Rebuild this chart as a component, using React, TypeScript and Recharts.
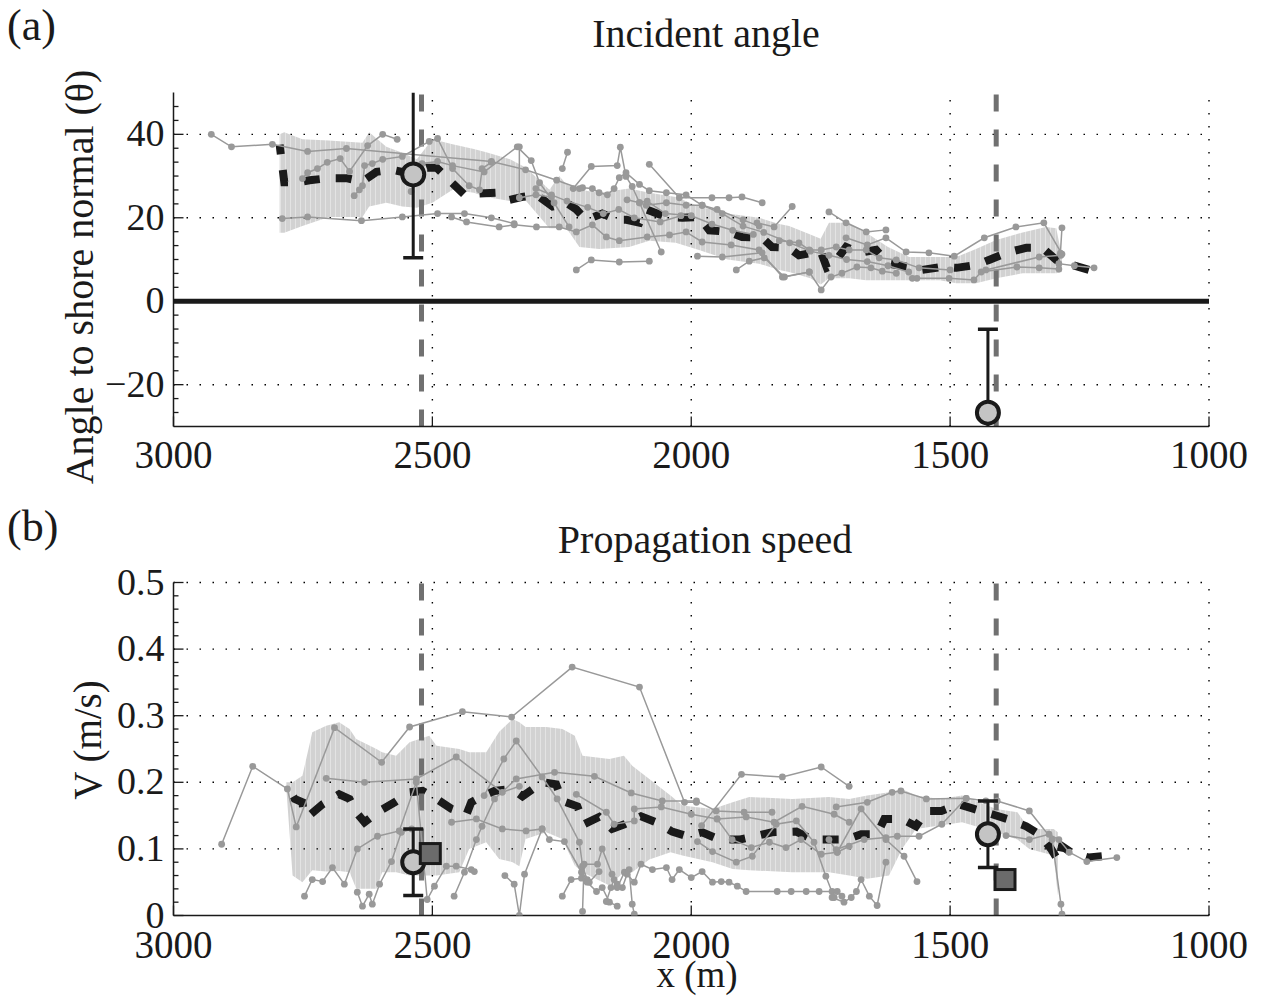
import React from 'react';
import { ComposedChart, XAxis, YAxis, Area, Line, Scatter, ReferenceLine } from 'recharts';

const FONT = '"Liberation Serif", "Times New Roman", Times, serif';
const INK = '#1a1a1a';
const GRAY = '#999999';

// ---------- axes ----------
const xTicks = [1000, 1500, 2000, 2500, 3000];
const xGrid = [2500, 2000, 1500, 1000];
const yMajorA = [-20, 0, 20, 40];
const yMinorA = [-26.667, -23.333, -16.667, -13.333, -10, -6.667, -3.333, 3.333, 6.667, 10, 13.333, 16.667, 23.333, 26.667, 30, 33.333, 36.667, 43.333, 46.667];
const yGridA = [40, 20, -20];
const yMajorB = [0, 0.1, 0.2, 0.3, 0.4, 0.5];
const yMinorB = [0.02, 0.04, 0.06, 0.08, 0.12, 0.14, 0.16, 0.18, 0.22, 0.24, 0.26, 0.28, 0.32, 0.34, 0.36, 0.38, 0.42, 0.44, 0.46, 0.48];
const yGridB = [0.1, 0.2, 0.3, 0.4, 0.5];
const dashedX = [2521, 1411];

// ---------- panel (a): incident angle ----------
const bandA: [number, number, number][] = [
  [2795, 16.4, 40], [2786, 16.4, 40.5], [2751, 18, 38.8], [2700, 20.2, 38.5], [2635, 20.2, 38],
  [2622, 22.7, 40.5], [2589, 23.6, 37], [2558, 22.7, 35.6], [2530, 22.4, 34], [2500, 23.6, 38.8],
  [2461, 26.7, 37.6], [2420, 26, 36.5], [2396, 25, 35.7], [2350, 24, 34], [2319, 24, 32],
  [2274, 17.5, 26.7], [2255, 17.5, 30], [2241, 17.5, 28], [2216, 13, 26.7], [2178, 12.5, 26],
  [2120, 13, 27], [2081, 14.5, 26], [2030, 14, 25], [1985, 12.3, 22.7], [1930, 10, 21],
  [1869, 9, 20], [1830, 7.5, 18.5], [1811, 7, 18], [1770, 5.5, 16], [1750, 4, 15],
  [1734, 5.5, 18.8], [1695, 5.5, 18.8], [1662, 5, 16.4], [1620, 5, 13], [1579, 5, 10.6],
  [1520, 5, 10.6], [1488, 4.3, 10.6], [1450, 4.3, 12.5], [1411, 5.5, 14.7], [1360, 6.7, 16.5],
  [1315, 6.7, 17.8], [1295, 6.7, 17.5], [1284, 7, 10.6],
];
const meanA: [number, number][] = [
  [2795, 37.5], [2786, 28.5], [2760, 28.5], [2737, 29], [2700, 29.5], [2666, 29.5], [2635, 28.7],
  [2608, 31], [2577, 31.5], [2540, 30.5], [2510, 32], [2492, 32], [2467, 29], [2438, 25.5],
  [2410, 25.8], [2376, 26], [2351, 24.3], [2326, 25], [2299, 25.5], [2268, 22.7], [2241, 23.6],
  [2222, 22], [2203, 19.5], [2172, 21], [2145, 19.5], [2125, 19.5], [2100, 18.8], [2087, 22],
  [2048, 20.2], [2017, 20], [1985, 20.2], [1965, 17], [1927, 16.6], [1902, 15.4], [1863, 15.2],
  [1844, 13], [1811, 12.8], [1792, 11], [1766, 11.6], [1750, 12], [1738, 8], [1728, 8.5],
  [1701, 13], [1676, 11.6], [1643, 12.3], [1618, 9], [1579, 8.2], [1554, 7.5], [1517, 8.2],
  [1488, 8], [1450, 8.7], [1425, 9.9], [1386, 11.8], [1353, 12.8], [1322, 12.8], [1295, 9.9],
  [1264, 8.7], [1232, 7.5],
];
const tracesA: [number, number][][] = [
  [[2927, 40], [2888, 37], [2809, 37.6], [2741, 35.9], [2666, 36.6], [2386, 33.5], [2320, 31.5], [2260, 29], [2216, 27]],
  [[2790, 19.8], [2741, 20.2], [2637, 19.3], [2558, 20.2], [2490, 21], [2438, 21], [2386, 20], [2342, 18.6]],
  [[2463, 20.2], [2434, 19], [2371, 17.8], [2342, 18.3], [2299, 17.8], [2255, 17.8], [2222, 16.6], [2191, 18.3], [2164, 15.4], [2139, 14.5], [2085, 15.4], [2042, 15.9], [2010, 16.6], [1979, 14.2], [1923, 13.5], [1869, 12.3], [1824, 5.8], [1772, 7], [1749, 2.7], [1730, 5.8], [1709, 6.7], [1680, 8.2], [1653, 8], [1631, 7.2], [1604, 6.7]],
  [[2751, 29.4], [2741, 30.8], [2722, 31.8], [2703, 33.3], [2678, 34.2], [2660, 31.1], [2625, 37.3], [2596, 40], [2568, 38.8]],
  [[2651, 25.3], [2641, 26.7], [2635, 27.7], [2631, 32.5], [2616, 33], [2596, 34], [2558, 34.7], [2506, 38.3], [2490, 39], [2461, 31.8], [2429, 27.7], [2409, 26.7], [2404, 31.8], [2386, 33.3]],
  [[2541, 26.3], [2520, 33], [2490, 33.5], [2461, 32.5], [2400, 31], [2336, 37], [2309, 33.7], [2293, 28.4], [2265, 23.6], [2236, 17.8]],
  [[2332, 37], [2332, 24.8], [2300, 25.5], [2270, 25]],
  [[2249, 31.8], [2239, 35.7]],
  [[2222, 7.5], [2193, 9.9], [2139, 9.4], [2081, 9.6]],
  [[2228, 27], [2193, 32.3], [2143, 32.5], [2137, 36.9], [2126, 29.9], [2114, 27.5], [2100, 23.6], [2058, 11.8]],
  [[2210, 27.2], [2191, 27], [2178, 26], [2162, 25.5], [2149, 27], [2139, 29.6], [2126, 30.8], [2100, 28], [2081, 26.5], [2048, 26], [2010, 25.5], [1979, 23], [1950, 22], [1900, 19.5], [1869, 18]],
  [[2081, 32.8], [2023, 24.8], [1960, 24.8], [1927, 24.8], [1902, 25], [1863, 23.6]],
  [[1988, 10.8], [1940, 10.6], [1863, 11.6]],
  [[1913, 7.5], [1888, 9.6], [1859, 10.4], [1820, 5.8], [1772, 7]],
  [[1873, 18.8], [1840, 17.8], [1805, 22.7]],
  [[1734, 21.4], [1701, 18.8], [1662, 16.6], [1624, 17.1]],
  [[1701, 15.2], [1660, 13.5], [1624, 15.2], [1585, 11.8], [1541, 11.6], [1492, 10.8], [1434, 15.2], [1373, 17.8], [1319, 18.8], [1284, 11.3]],
  [[1284, 17.6], [1287, 11.5], [1290, 9], [1260, 8.5], [1222, 8]],
  [[1573, 5.5], [1564, 5.5], [1502, 5.5], [1454, 5.1], [1440, 7], [1371, 8.2], [1328, 8], [1290, 7.7]],
  [[1431, 7.5], [1328, 10.6], [1286, 11]],
  [[2087, 23], [2048, 23.6], [2010, 23], [1979, 23], [1940, 21], [1900, 18], [1860, 16.5], [1810, 14], [1770, 12], [1734, 11], [1700, 10], [1660, 9.5], [1620, 8.5], [1580, 7]],
  [[2124, 24.3], [2100, 23.6], [2085, 24], [2050, 21], [2000, 20.5], [1960, 18.5], [1920, 17], [1880, 16]],
  [[2300, 27], [2270, 25.5], [2240, 24], [2200, 22.5], [2170, 21], [2140, 22], [2110, 20], [2060, 19], [2020, 20.5]],
  [[1830, 14.5], [1792, 14], [1772, 12.3], [1749, 12.3], [1720, 13], [1695, 12.3], [1662, 12.3], [1637, 10.4], [1604, 9.9], [1560, 8], [1500, 7.5]],
];
const obsA = [
  { x: 2537, y: 30.4, err: [20, 20] },
  { x: 1427, y: -26.7, err: [20, 20] },
];

// ---------- panel (b): propagation speed ----------
const bandB: [number, number, number][] = [
  [2782, 0.19, 0.2], [2770, 0.06, 0.2], [2751, 0.05, 0.21], [2732, 0.068, 0.275], [2705, 0.066, 0.285],
  [2680, 0.067, 0.29], [2660, 0.065, 0.28], [2647, 0.04, 0.265], [2608, 0.04, 0.25], [2597, 0.065, 0.245],
  [2570, 0.065, 0.24], [2544, 0.06, 0.26], [2506, 0.06, 0.27], [2492, 0.06, 0.255], [2448, 0.065, 0.25],
  [2429, 0.1, 0.245], [2396, 0.11, 0.245], [2371, 0.085, 0.276], [2345, 0.08, 0.295], [2332, 0.074, 0.29],
  [2320, 0.115, 0.283], [2280, 0.125, 0.283], [2249, 0.115, 0.28], [2225, 0.075, 0.27], [2210, 0.065, 0.24],
  [2158, 0.045, 0.235], [2130, 0.065, 0.24], [2114, 0.065, 0.225], [2081, 0.084, 0.205], [2040, 0.095, 0.18],
  [2017, 0.09, 0.165], [1959, 0.08, 0.16], [1920, 0.07, 0.17], [1888, 0.068, 0.178], [1805, 0.065, 0.175],
  [1734, 0.065, 0.178], [1695, 0.06, 0.175], [1660, 0.055, 0.18], [1618, 0.06, 0.185], [1593, 0.1, 0.19],
  [1566, 0.13, 0.18], [1520, 0.135, 0.175], [1477, 0.14, 0.18], [1411, 0.125, 0.16], [1370, 0.114, 0.155],
  [1347, 0.1, 0.13], [1300, 0.09, 0.13], [1292, 0.03, 0.125],
];
const meanB: [number, number][] = [
  [2780, 0.194], [2766, 0.175], [2751, 0.17], [2748, 0.15], [2735, 0.152], [2712, 0.167], [2680, 0.182],
  [2660, 0.175], [2647, 0.155], [2631, 0.14], [2602, 0.157], [2573, 0.17], [2544, 0.185], [2519, 0.187],
  [2492, 0.175], [2463, 0.16], [2434, 0.152], [2425, 0.17], [2404, 0.179], [2380, 0.187], [2346, 0.19],
  [2326, 0.179], [2288, 0.2], [2261, 0.197], [2249, 0.172], [2220, 0.164], [2207, 0.137], [2178, 0.148],
  [2153, 0.13], [2129, 0.137], [2097, 0.149], [2068, 0.14], [2037, 0.126], [2008, 0.119], [1979, 0.125],
  [1946, 0.114], [1907, 0.114], [1878, 0.119], [1844, 0.125], [1797, 0.126], [1766, 0.114], [1734, 0.114],
  [1701, 0.114], [1672, 0.122], [1641, 0.122], [1627, 0.145], [1593, 0.145], [1566, 0.134], [1546, 0.157],
  [1517, 0.157], [1483, 0.167], [1454, 0.16], [1419, 0.152], [1390, 0.145], [1353, 0.134], [1328, 0.122],
  [1305, 0.1], [1290, 0.081], [1284, 0.104], [1267, 0.095], [1232, 0.087], [1207, 0.089],
];
const tracesB: [number, number][][] = [
  [[2907, 0.107], [2847, 0.224], [2780, 0.19], [2763, 0.133], [2689, 0.282], [2598, 0.23], [2544, 0.283], [2442, 0.306], [2347, 0.298], [2230, 0.373], [2100, 0.343], [2013, 0.17], [1990, 0.17]],
  [[2705, 0.206], [2631, 0.2], [2531, 0.205], [2454, 0.238], [2365, 0.185], [2332, 0.194]],
  [[2747, 0.029], [2732, 0.054], [2712, 0.051], [2693, 0.072], [2670, 0.047], [2645, 0.1], [2606, 0.119], [2564, 0.127], [2531, 0.2], [2510, 0.024], [2496, 0.044], [2473, 0.074], [2454, 0.074], [2425, 0.069], [2419, 0.066]],
  [[2645, 0.035], [2635, 0.014], [2622, 0.032], [2616, 0.017], [2602, 0.047], [2579, 0.081], [2560, 0.125], [2540, 0.13]],
  [[2463, 0.14], [2415, 0.145], [2365, 0.13], [2319, 0.127], [2288, 0.13], [2274, 0.114], [2245, 0.111], [2212, 0.065], [2197, 0.05], [2178, 0.066]],
  [[2458, 0.029], [2438, 0.065], [2415, 0.114], [2404, 0.134], [2380, 0.175], [2338, 0.205], [2264, 0.215], [2187, 0.209], [2116, 0.184], [2056, 0.172], [1990, 0.172], [1952, 0.157], [1898, 0.155], [1844, 0.155]],
  [[2400, 0.18], [2362, 0.235], [2338, 0.262], [2288, 0.208], [2259, 0.175], [2216, 0.11], [2210, 0.074], [2201, 0.054]],
  [[2360, 0.06], [2342, 0.047], [2332, 0.0], [2322, 0.062], [2288, 0.13]],
  [[2222, 0.182], [2164, 0.155], [2149, 0.137], [2110, 0.142], [2110, 0.16], [2058, 0.163], [2000, 0.152], [1950, 0.145], [1894, 0.148], [1840, 0.14], [1786, 0.164], [1724, 0.152], [1695, 0.14]],
  [[2249, 0.029], [2232, 0.054], [2212, 0.056], [2201, 0.05], [2183, 0.036], [2172, 0.042], [2158, 0.02], [2143, 0.014]],
  [[2210, 0.006], [2207, 0.077], [2181, 0.077], [2172, 0.1], [2153, 0.062], [2143, 0.042], [2129, 0.065], [2120, 0.069], [2114, 0.017], [2110, 0.002]],
  [[2164, 0.021], [2155, 0.042], [2149, 0.054], [2143, 0.047], [2133, 0.042], [2124, 0.062], [2110, 0.05], [2097, 0.077], [2075, 0.069], [2048, 0.072], [2037, 0.054], [2023, 0.069], [2000, 0.057], [1979, 0.066], [1959, 0.05], [1942, 0.051], [1927, 0.05], [1911, 0.044], [1894, 0.036], [1834, 0.036], [1807, 0.036], [1778, 0.036], [1753, 0.036], [1728, 0.036], [1718, 0.036], [1709, 0.029]],
  [[1980, 0.135], [1903, 0.212], [1824, 0.208], [1749, 0.223], [1695, 0.194]],
  [[1950, 0.145], [1921, 0.114], [1884, 0.102], [1849, 0.11], [1817, 0.102], [1788, 0.114], [1749, 0.092], [1718, 0.095], [1695, 0.104]],
  [[1988, 0.111], [1959, 0.096], [1913, 0.08], [1882, 0.089], [1836, 0.137], [1797, 0.142], [1763, 0.11], [1740, 0.059], [1724, 0.027]],
  [[1720, 0.163], [1660, 0.17], [1612, 0.185], [1595, 0.187], [1546, 0.175], [1469, 0.176], [1431, 0.172], [1409, 0.172], [1347, 0.157], [1303, 0.114], [1286, 0.017], [1284, 0.002]],
  [[1734, 0.114], [1718, 0.095], [1672, 0.16], [1624, 0.114], [1589, 0.089], [1564, 0.051]],
  [[1720, 0.099], [1666, 0.114], [1624, 0.117], [1602, 0.119], [1560, 0.119], [1516, 0.137], [1469, 0.176]],
  [[1728, 0.027], [1705, 0.02], [1691, 0.027], [1681, 0.036], [1672, 0.054], [1656, 0.029], [1641, 0.015], [1624, 0.08]],
  [[1392, 0.12], [1347, 0.114], [1309, 0.122], [1290, 0.114], [1270, 0.095], [1236, 0.081], [1178, 0.087]],
];
const obsB = [
  { x: 2537, y: 0.08, err: [0.05, 0.05] },
  { x: 1427, y: 0.122, err: [0.05, 0.05] },
];
const modelB = [
  { x: 2504, y: 0.093 },
  { x: 1394, y: 0.054 },
];

// ---------- helpers ----------
function buildTable(band: [number, number, number][], mean: [number, number][]) {
  const m = new Map<number, any>();
  band.forEach(([x, lo, hi]) => m.set(x, { ...(m.get(x) || { x }), band: [lo, hi] }));
  mean.forEach(([x, v]) => m.set(x, { ...(m.get(x) || { x }), mean: v }));
  return Array.from(m.values()).sort((a, b) => a.x - b.x);
}
const toPts = (t: [number, number][]) => t.map(([x, y]) => ({ x, y }));

// error bar segments clamped to the visible axis range; caps only where the bar ends inside it
function errSegments(obs: { x: number; y: number; err: number[] }[], dom: [number, number]) {
  return obs.map((o) => {
    const lo = o.y - o.err[0];
    const hi = o.y + o.err[1];
    return [
      { x: o.x, y: Math.max(lo, dom[0]), cap: lo >= dom[0] },
      { x: o.x, y: Math.min(hi, dom[1]), cap: hi <= dom[1] },
    ];
  });
}

const fmtA = (v: number) => (v < 0 ? '\u2212' + Math.abs(v) : String(v));
const fmtB = (v: number) => (v === 0 ? '0' : v.toFixed(1));

const makeYTick = (majors: number[], fmt: (v: number) => string) => (props: any) => {
  const { x, y, payload } = props;
  const v = payload.value;
  const isMajor = majors.some((m) => Math.abs(m - v) < 1e-6);
  return (
    <g>
      <line x1={x} x2={x + (isMajor ? 10 : 5)} y1={y} y2={y} stroke={INK} strokeWidth={1.3} />
      {isMajor && (
        <text x={x - 9} y={y} dy={12} textAnchor="end" fontFamily={FONT} fontSize={38} fill={INK}>
          {fmt(v)}
        </text>
      )}
    </g>
  );
};
const XTick = (props: any) => {
  const { x, y, payload } = props;
  return (
    <g>
      <line x1={x} x2={x} y1={y} y2={y - 10} stroke={INK} strokeWidth={1.3} />
      <text x={x} y={y + 42} textAnchor="middle" fontFamily={FONT} fontSize={39} fill={INK}>
        {payload.value}
      </text>
    </g>
  );
};

const GrayDot = (p: any) => <circle cx={p.cx} cy={p.cy} r={3.4} fill={GRAY} />;
const Cap = (p: any) => {
  const cap = p.payload ? p.payload.cap : p.cap;
  return cap ? <line x1={p.cx - 10} x2={p.cx + 10} y1={p.cy} y2={p.cy} stroke={INK} strokeWidth={3.5} /> : <g />;
};
const ObsCircle = (p: any) => <circle cx={p.cx} cy={p.cy} r={11} fill="#c4c4c4" stroke={INK} strokeWidth={4} />;
const ModelSquare = (p: any) => (
  <rect x={p.cx - 10} y={p.cy - 10} width={20} height={20} fill="#6b6b6b" stroke={INK} strokeWidth={3} />
);

const gridDash = '1.5 11.5';

function Panel(props: {
  id: string; top: number; height: number; marginTop: number; marginBottom: number;
  band: [number, number, number][]; mean: [number, number][]; traces: [number, number][][];
  yDomain: [number, number]; yMajor: number[]; yMinor: number[]; yGrid: number[];
  fmt: (v: number) => string; obs: any[]; model?: any[]; zeroLine?: boolean;
}) {
  const data = buildTable(props.band, props.mean);
  const yTicks = [...props.yMajor, ...props.yMinor].sort((a, b) => a - b);
  const segs = errSegments(props.obs, props.yDomain);
  const pid = 'stripes-' + props.id;
  return (
    <div style={{ position: 'absolute', left: 0, top: props.top, width: 1267, height: props.height }}>
      <ComposedChart
        width={1267}
        height={props.height}
        data={data}
        margin={{ top: props.marginTop, right: 58, bottom: props.marginBottom, left: 113.5 }}
      >
        <defs>
          <pattern id={pid} patternUnits="userSpaceOnUse" width={5} height={10}>
            <rect x={0} y={0} width={5} height={10} fill="#d2d2d2" />
            <rect x={0} y={0} width={1} height={10} fill="#e3e3e3" />
          </pattern>
        </defs>
        <XAxis
          type="number"
          dataKey="x"
          domain={[1000, 3000]}
          reversed
          ticks={xTicks}
          interval={0}
          tickSize={0}
          tickMargin={0}
          tick={XTick}
          height={40}
          axisLine={{ stroke: INK, strokeWidth: 1.5 }}
          tickLine={false}
          allowDataOverflow
        />
        <YAxis
          type="number"
          dataKey="y"
          domain={props.yDomain}
          ticks={yTicks}
          interval={0}
          tickSize={0}
          tickMargin={0}
          tick={makeYTick(props.yMajor, props.fmt)}
          width={60}
          axisLine={{ stroke: INK, strokeWidth: 1.5 }}
          tickLine={false}
          allowDataOverflow
        />
        {props.yGrid.map((v) => (
          <ReferenceLine key={'gy' + v} y={v} stroke="#000" strokeWidth={1.4} strokeDasharray={gridDash} />
        ))}
        {xGrid.map((v) => (
          <ReferenceLine key={'gx' + v} x={v} stroke="#000" strokeWidth={1.4} strokeDasharray={gridDash} />
        ))}
        <Area
          dataKey="band"
          type="linear"
          fill={`url(#${pid}) #d4d4d4`}
          fillOpacity={1}
          stroke="none"
          connectNulls
          isAnimationActive={false}
          activeDot={false}
        />
        {props.traces.map((t, i) => (
          <Scatter
            key={'tr' + i}
            data={toPts(t)}
            line={{ stroke: GRAY, strokeWidth: 1.5 }}
            shape={GrayDot}
            fill={GRAY}
            isAnimationActive={false}
          />
        ))}
        <Line
          dataKey="mean"
          type="linear"
          stroke={INK}
          strokeWidth={8}
          strokeDasharray="16 16"
          dot={false}
          activeDot={false}
          connectNulls
          isAnimationActive={false}
        />
        {props.zeroLine && <ReferenceLine y={0} stroke={INK} strokeWidth={5} />}
        {dashedX.map((v) => (
          <ReferenceLine key={'dx' + v} x={v} stroke="#707070" strokeWidth={5} strokeDasharray="17 18" />
        ))}
        {segs.map((s, i) => (
          <Scatter
            key={'eb' + i}
            data={s}
            line={{ stroke: INK, strokeWidth: 3 }}
            shape={Cap}
            isAnimationActive={false}
          />
        ))}
        <Scatter data={props.obs} shape={ObsCircle} isAnimationActive={false} />
        {props.model && <Scatter data={props.model} shape={ModelSquare} isAnimationActive={false} />}
      </ComposedChart>
    </div>
  );
}

export default function App() {
  return (
    <div style={{ position: 'absolute', left: 0, top: 0, width: 1267, height: 998, background: '#fff', overflow: 'hidden' }}>
      <Panel
        id="a"
        top={0}
        height={500}
        marginTop={92.6}
        marginBottom={33.6}
        band={bandA}
        mean={meanA}
        traces={tracesA}
        yDomain={[-30, 50]}
        yMajor={yMajorA}
        yMinor={yMinorA}
        yGrid={yGridA}
        fmt={fmtA}
        obs={obsA}
        zeroLine
      />
      <Panel
        id="b"
        top={500}
        height={498}
        marginTop={82.5}
        marginBottom={42.5}
        band={bandB}
        mean={meanB}
        traces={tracesB}
        yDomain={[0, 0.5]}
        yMajor={yMajorB}
        yMinor={yMinorB}
        yGrid={yGridB}
        fmt={fmtB}
        obs={obsB}
        model={modelB}
      />
      <svg width={1267} height={998} style={{ position: 'absolute', left: 0, top: 0, pointerEvents: 'none' }}>
        <g fontFamily={FONT} fill={INK}>
          <text x={7} y={40} fontSize={44}>(a)</text>
          <text x={706} y={47} fontSize={40} textAnchor="middle">Incident angle</text>
          <text transform="translate(93,277) rotate(-90)" fontSize={40} textAnchor="middle">Angle to shore normal (θ)</text>
          <text x={7} y={541} fontSize={44}>(b)</text>
          <text x={705} y={553} fontSize={40} textAnchor="middle">Propagation speed</text>
          <text transform="translate(101,740) rotate(-90)" fontSize={39} textAnchor="middle">V (m/s)</text>
          <text x={697} y={987} fontSize={37} textAnchor="middle">x (m)</text>
        </g>
      </svg>
    </div>
  );
}
